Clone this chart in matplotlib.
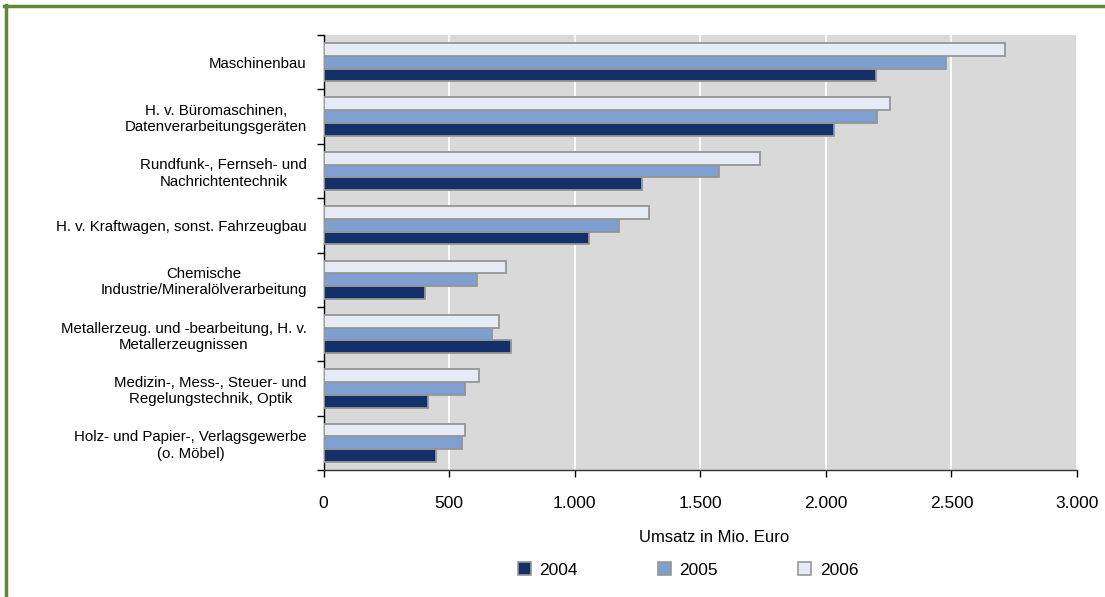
import numpy as np
import matplotlib
matplotlib.use("Agg")
import matplotlib.pyplot as plt
from matplotlib.lines import Line2D
from matplotlib.patches import Patch

# Branchen (top to bottom)
branchen = [
    "Maschinenbau",
    "H. v. Büromaschinen,\nDatenverarbeitungsgeräten",
    "Rundfunk-, Fernseh- und\nNachrichtentechnik",
    "H. v. Kraftwagen, sonst. Fahrzeugbau",
    "Chemische\nIndustrie/Mineralölverarbeitung",
    "Metallerzeug. und -bearbeitung, H. v.\nMetallerzeugnissen",
    "Medizin-, Mess-, Steuer- und\nRegelungstechnik, Optik",
    "Holz- und Papier-, Verlagsgewerbe\n(o. Möbel)",
]

# Umsatz in Mio. Euro
umsatz_2004 = [2200, 2033, 1268, 1058, 403, 745, 415, 449]
umsatz_2005 = [2478, 2202, 1573, 1176, 612, 672, 565, 553]
umsatz_2006 = [2713, 2255, 1738, 1296, 725, 699, 619, 563]

jahre = ["2004", "2005", "2006"]
farben = ["#14306a", "#7f9fd0", "#e6eaf5"]

plt.rcParams["font.family"] = ["Liberation Sans", "DejaVu Sans"]

fig = plt.figure(figsize=(11.05, 5.97), dpi=100)
ax = fig.add_axes([323.5 / 1105, 1 - 470 / 597, (1077 - 323.5) / 1105, (470 - 35) / 597])

n = len(branchen)
pos = np.arange(n)[::-1]  # first category on top
h = 0.235
for i, (werte, jahr, farbe) in enumerate(zip([umsatz_2004, umsatz_2005, umsatz_2006], jahre, farben)):
    # 2006 on top, 2004 at the bottom of each group
    ax.barh(pos + (i - 1) * h, werte, height=h, color=farbe,
            edgecolor="#959595", linewidth=1.3, label=jahr, zorder=3)

ax.set_facecolor("#d9d9d9")
ax.set_xlim(0, 3000)
ax.set_ylim(-0.5, n - 0.5)
ax.set_xticks(np.arange(0, 3001, 500))
ax.set_xticklabels(["0", "500", "1.000", "1.500", "2.000", "2.500", "3.000"], fontsize=12.5)
ax.xaxis.grid(True, color="white", linewidth=1.3, zorder=1)
ax.set_axisbelow(True)

ax.set_yticks(pos)
ax.set_yticklabels(branchen, fontsize=10.8, ha="right", multialignment="center")
ax.set_yticks(np.arange(-0.5, n, 1), minor=True)
ax.tick_params(axis="y", which="major", length=0, pad=12)
ax.tick_params(axis="y", which="minor", length=5, width=1, direction="out")
ax.tick_params(axis="x", length=5, width=1, direction="out", pad=14)

for s in ["top", "right"]:
    ax.spines[s].set_visible(False)
ax.spines["left"].set_linewidth(1)
ax.spines["bottom"].set_linewidth(1)
ax.spines["bottom"].set_color("#333333")

fig.text(714 / 1105, 1 - 538 / 597, "Umsatz in Mio. Euro", ha="center", va="center", fontsize=12)

handles = [Patch(facecolor=f, edgecolor="#979797", linewidth=1.2) for f in farben]
fig.legend(handles, jahre, loc="center", bbox_to_anchor=(688 / 1105, 1 - 570 / 597),
           ncol=3, frameon=False, fontsize=12.5, handlelength=0.75, handleheight=0.75,
           handletextpad=0.5, columnspacing=4.6)

# green frame lines (top and left)
gruen = "#5b8a33"
fig.add_artist(Line2D([4 / 1105, 1], [1 - 6 / 597, 1 - 6 / 597], color=gruen, linewidth=2.5,
                      transform=fig.transFigure))
fig.add_artist(Line2D([5.5 / 1105, 5.5 / 1105], [0, 1 - 4.5 / 597], color=gruen, linewidth=2.5,
                      transform=fig.transFigure))

fig.savefig("out.png", dpi=100)
